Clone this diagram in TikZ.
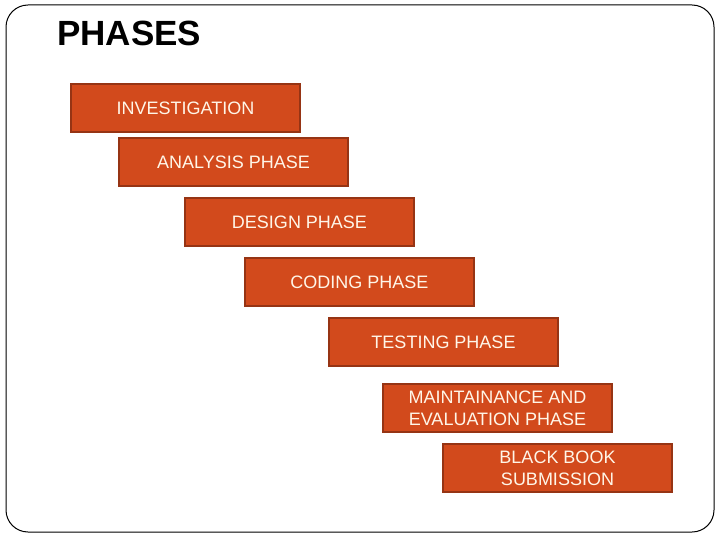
\documentclass[tikz,border=0pt]{standalone}
\usepackage{fontspec}
\setmainfont{Liberation Sans}
\usepackage{tikz}

\definecolor{phasefill}{RGB}{210,74,28}
\definecolor{phaseline}{RGB}{150,52,20}
\definecolor{phasetext}{RGB}{255,246,232}

\begin{document}
\begin{tikzpicture}[x=1pt,y=-1pt,
    phasebox/.style={draw=phaseline, line width=1.5pt, fill=phasefill,
        text=phasetext, minimum width=229pt, minimum height=48pt,
        inner sep=0pt, align=center, font=\fontsize{18}{22}\selectfont}]
    \useasboundingbox (0,0) rectangle (720,540);

    % frame
    \draw[line width=1pt, rounded corners=22pt] (6,5) rectangle (714,532);

    % title
    \node[anchor=base west, inner sep=0pt, font=\fontsize{35}{40}\selectfont\bfseries] (title) at (57,46) {PHASES};

    % phases, stepping down to the right
    \node[phasebox] (inv) at (185.5,108) {INVESTIGATION};
    \node[phasebox] (ana) at (233.5,162) {ANALYSIS PHASE};
    \node[phasebox] (des) at (299.5,222) {DESIGN PHASE};
    \node[phasebox] (cod) at (359.5,282) {CODING PHASE};
    \node[phasebox] (tes) at (443.5,342) {TESTING PHASE};
    \node[phasebox] (mai) at (497.5,408) {MAINTAINANCE AND\\EVALUATION PHASE};
    \node[phasebox] (bbs) at (557.5,468) {BLACK BOOK\\SUBMISSION};

\end{tikzpicture}
\end{document}
